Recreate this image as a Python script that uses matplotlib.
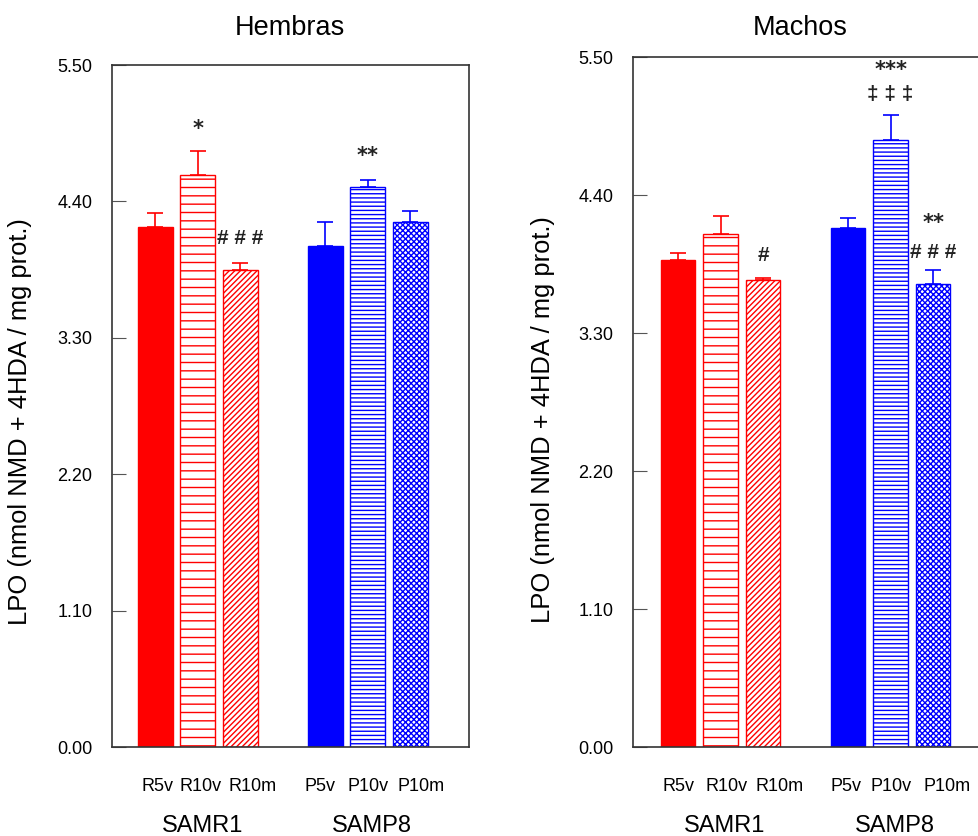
import numpy as np
import matplotlib
matplotlib.use("Agg")
import matplotlib.pyplot as plt

plt.rcParams['font.family'] = ['Liberation Sans', 'DejaVu Sans']
plt.rcParams['hatch.linewidth'] = 1.0

# data
labels = ["R5v", "R10v", "R10m", "P5v", "P10v", "P10m"]
groups = ["SAMR1", "SAMP8"]
hembras_mean = [4.19, 4.61, 3.85, 4.04, 4.52, 4.23]
hembras_err = [0.12, 0.20, 0.05, 0.19, 0.05, 0.09]
machos_mean = [3.88, 4.09, 3.72, 4.14, 4.84, 3.69]
machos_err = [0.06, 0.14, 0.02, 0.08, 0.20, 0.11]
yticks = [0.00, 1.10, 2.20, 3.30, 4.40, 5.50]

# significance marks: (bar index, text, y)
hembras_marks = [(1, "*", 4.98), (2, "# # #", 4.10), (4, "**", 4.77)]
machos_marks = [(2, "#", 3.92), (4, "***", 5.40), (4, "\u2021 \u2021 \u2021", 5.20),
                (5, "**", 4.18), (5, "# # #", 3.94)]

xpos = [0, 1, 2, 4, 5, 6]
# label positions are a bit off the bar centres in the original
hembras_labelx = [0.04, 1.07, 2.29, 3.88, 5.01, 6.26]
machos_labelx = [0.02, 1.13, 2.38, 3.95, 5.01, 6.34]
colors = ["red", "red", "red", "blue", "blue", "blue"]
hatches = [None, "--", "//////", None, "----", "xxxxxx"]
fills = [True, False, False, True, False, False]

fig = plt.figure(figsize=(9.79, 8.36), dpi=100)
ax1 = fig.add_axes([112/979, 1-747/836, 357/979, 682/836])
ax2 = fig.add_axes([633/979, 1-747/836, 357/979, 690/836])


def draw(ax, means, errs, marks, labelx, title, title_x):
    for x, m, e, c, h, f in zip(xpos, means, errs, colors, hatches, fills):
        ax.bar(x, m, width=0.82, color=c if f else "white", edgecolor=c,
               hatch=h, linewidth=1.0, zorder=2)
        ax.errorbar(x, m, yerr=[[0], [e]], fmt="none", ecolor=c,
                    elinewidth=1.2, capsize=6, capthick=1.2, zorder=3)
    for i, t, y in marks:
        if "*" in t:
            ax.text(xpos[i], y, t, ha="center", va="center", fontsize=15,
                    fontweight="bold", color="#222222", family="DejaVu Sans")
        else:
            ax.text(xpos[i], y, t, ha="center", va="center", fontsize=15,
                    fontweight="bold", color="#222222")
    ax.set_ylim(0, 5.5)
    ax.set_xlim(-1.02, 7.38)
    ax.set_yticks(yticks)
    ax.set_yticklabels([f"{v:.2f}" for v in yticks], fontsize=13)
    ax.tick_params(axis="y", direction="in", length=10, pad=14, color="#555555")
    ax.set_xticks(labelx)
    ax.set_xticklabels(labels, fontsize=13)
    ax.tick_params(axis="x", length=0, pad=22)
    for s in ax.spines.values():
        s.set_color("#333333")
        s.set_linewidth(1.2)
    ax.set_ylabel("LPO (nmol NMD + 4HDA / mg prot.)", fontsize=18.4)
    for g, cx in zip(groups, [1.1, 5.1]):
        ax.annotate(g, xy=(cx, 0), xycoords=("data", "axes fraction"),
                    xytext=(0, -57), textcoords="offset points",
                    ha="center", va="center", fontsize=17)
    fig.text(title_x, 1-28/836, title, ha="center", va="center", fontsize=19.5)


draw(ax1, hembras_mean, hembras_err, hembras_marks, hembras_labelx,
     "Hembras", 290/979)
ax1.yaxis.set_label_coords(-0.224, 0.477)
draw(ax2, machos_mean, machos_err, machos_marks, machos_labelx,
     "Machos", 800/979)
ax2.set_xlim(-1.06, 7.34)
ax2.yaxis.set_label_coords(-0.218, 0.475)

fig.savefig("out.png", dpi=100)
